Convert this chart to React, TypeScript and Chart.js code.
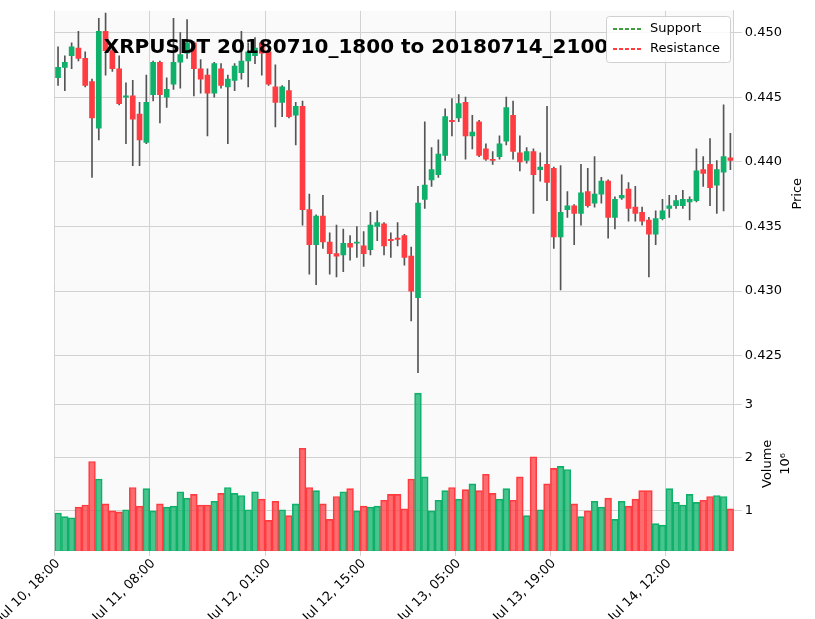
import { useEffect, useRef } from "react"
import Chart from "chart.js/auto"

const opens = [
  0.4465, 0.4473, 0.4482, 0.4488, 0.448, 0.4462, 0.4426, 0.4501, 0.4486, 0.4472,
  0.445, 0.4451, 0.4437, 0.4415, 0.4452, 0.4477, 0.445, 0.446, 0.4477, 0.4484,
  0.4492, 0.4472, 0.4467, 0.4453, 0.4472, 0.4458, 0.4463, 0.4469, 0.4478, 0.4482,
  0.4492, 0.4485, 0.4458, 0.4446, 0.4455, 0.4436, 0.4443, 0.4363, 0.4336, 0.4358,
  0.4338, 0.4329, 0.4328, 0.4337, 0.4337, 0.4335, 0.4332, 0.435, 0.4352, 0.434,
  0.4341, 0.4343, 0.4327, 0.4295, 0.4371, 0.4386, 0.439, 0.4405, 0.4432, 0.4434,
  0.4446, 0.442, 0.4431, 0.441, 0.4402, 0.4404, 0.4416, 0.4436, 0.4407, 0.4401,
  0.4408, 0.4394, 0.4398, 0.4395, 0.4342, 0.4363, 0.4366, 0.436, 0.4377, 0.4368,
  0.4375, 0.4385, 0.4357, 0.4372, 0.4379, 0.4365, 0.4361, 0.4355, 0.4344, 0.4356,
  0.4364, 0.4366, 0.4366, 0.4369, 0.437, 0.4394, 0.4398, 0.4382, 0.4392, 0.4403,
]
const closes = [
  0.4473, 0.4477, 0.4489, 0.448, 0.4459, 0.4434, 0.4501, 0.4486, 0.4472, 0.4445,
  0.4451, 0.4433, 0.4417, 0.4446, 0.4477, 0.4452, 0.4456, 0.4477, 0.4483, 0.4492,
  0.4472, 0.4464, 0.4453, 0.4476, 0.4459, 0.4464, 0.4474, 0.4478, 0.4485, 0.4488,
  0.4484, 0.446, 0.4446, 0.4458, 0.4435, 0.4443, 0.4363, 0.4336, 0.4358, 0.4338,
  0.4329, 0.4327, 0.4337, 0.4334, 0.4338, 0.4329, 0.4351, 0.4353, 0.4335, 0.4339,
  0.434, 0.4326, 0.43, 0.4368, 0.4382, 0.4394, 0.4406, 0.4435, 0.4431, 0.4445,
  0.442, 0.4423, 0.4405, 0.4402, 0.4401, 0.4414, 0.4442, 0.4408, 0.44, 0.4408,
  0.439, 0.4396, 0.4384, 0.4342, 0.4361, 0.4366, 0.436, 0.4376, 0.4366, 0.4375,
  0.4385, 0.4357, 0.4371, 0.4374, 0.4364, 0.436, 0.4354, 0.4344, 0.4356, 0.4362,
  0.4366, 0.437, 0.4371, 0.4371, 0.4393, 0.4391, 0.438, 0.4394, 0.4404, 0.4401,
]
const highs = [
  0.4489, 0.4482, 0.4492, 0.4501, 0.4485, 0.4464, 0.4511, 0.4515, 0.4487, 0.4482,
  0.4461, 0.4463, 0.4446, 0.4467, 0.4478, 0.4478, 0.4465, 0.4511, 0.45, 0.451,
  0.4493, 0.4479, 0.4472, 0.4477, 0.4476, 0.4467, 0.4476, 0.4501, 0.4492, 0.4496,
  0.4493, 0.4486, 0.4475, 0.4459, 0.4463, 0.4446, 0.4447, 0.4375, 0.4359, 0.4374,
  0.4345, 0.4351, 0.4348, 0.4343, 0.435, 0.4346, 0.4361, 0.4362, 0.4353, 0.4345,
  0.4353, 0.4344, 0.4334, 0.4381, 0.4431, 0.4411, 0.4417, 0.4441, 0.4449, 0.4452,
  0.445, 0.4436, 0.4432, 0.4414, 0.4408, 0.442, 0.445, 0.4447, 0.442, 0.4411,
  0.441, 0.4407, 0.4443, 0.4396, 0.4397, 0.4377, 0.4367, 0.4398, 0.4395, 0.4404,
  0.4388, 0.4386, 0.4373, 0.439, 0.4384, 0.4381, 0.4365, 0.4357, 0.4362, 0.4371,
  0.4374, 0.4374, 0.4378, 0.4373, 0.441, 0.4404, 0.4418, 0.4401, 0.4444, 0.4422,
]
const lows = [
  0.4459, 0.4455, 0.4472, 0.4478, 0.4458, 0.4388, 0.4417, 0.4467, 0.447, 0.4444,
  0.4414, 0.4397, 0.4397, 0.4414, 0.4447, 0.443, 0.4442, 0.4456, 0.4457, 0.448,
  0.4451, 0.4453, 0.442, 0.445, 0.4457, 0.4414, 0.4455, 0.4464, 0.4458, 0.4476,
  0.4467, 0.4459, 0.4427, 0.4435, 0.4434, 0.4413, 0.4351, 0.4313, 0.4305, 0.4333,
  0.4313, 0.4311, 0.4315, 0.4324, 0.4326, 0.4319, 0.4328, 0.4339, 0.4328, 0.4326,
  0.4335, 0.432, 0.4277, 0.4237, 0.4364, 0.4381, 0.4388, 0.4401, 0.442, 0.4431,
  0.4402, 0.441, 0.4404, 0.4401, 0.4398, 0.4402, 0.4413, 0.4402, 0.4393, 0.4399,
  0.436, 0.4385, 0.437, 0.4333, 0.4301, 0.4357, 0.4336, 0.4351, 0.4365, 0.4365,
  0.4368, 0.4341, 0.4348, 0.4371, 0.4354, 0.4354, 0.4351, 0.4311, 0.4336, 0.4355,
  0.4357, 0.4364, 0.4364, 0.4355, 0.4369, 0.4381, 0.4366, 0.436, 0.4362, 0.4394,
]
// volume in units of 10^6
const volumes = [
  0.96, 0.89, 0.87, 1.07, 1.11, 1.93, 1.6, 1.13, 1.0, 0.98,
  1.02, 1.44, 1.09, 1.42, 1.0, 1.13, 1.07, 1.09, 1.36, 1.24,
  1.31, 1.11, 1.11, 1.18, 1.33, 1.44, 1.33, 1.29, 1.02, 1.36,
  1.22, 0.82, 1.18, 1.02, 0.91, 1.13, 2.18, 1.44, 1.38, 1.13,
  0.84, 1.27, 1.36, 1.42, 1.0, 1.09, 1.07, 1.09, 1.2, 1.31,
  1.31, 1.04, 1.6, 3.22, 1.64, 1.0, 1.2, 1.38, 1.44, 1.22,
  1.4, 1.51, 1.38, 1.69, 1.33, 1.22, 1.42, 1.2, 1.64, 0.91,
  2.02, 1.02, 1.51, 1.8, 1.84, 1.78, 1.13, 0.89, 1.0, 1.18,
  1.07, 1.24, 0.84, 1.18, 1.09, 1.22, 1.38, 1.38, 0.76, 0.73,
  1.42, 1.16, 1.11, 1.31, 1.16, 1.2, 1.27, 1.29, 1.27, 1.04,
]
// shown x tick labels by candle index
const tickLabels: Record<number, string> = {
  0: "Jul 10, 18:00",
  14: "Jul 11, 08:00",
  31: "Jul 12, 01:00",
  45: "Jul 12, 15:00",
  59: "Jul 13, 05:00",
  73: "Jul 13, 19:00",
  90: "Jul 14, 12:00",
}
const title = "XRPUSDT 20180710_1800 to 20180714_2100"

const UP = "#0fb16a"
const DOWN = "#ff3c41"
const FONT = "'DejaVu Sans', sans-serif"

const CandleChart = () => {
  const chartRef = useRef<HTMLCanvasElement>(null)
  const chartInstance = useRef<Chart | null>(null)

  useEffect(() => {
    if (!chartRef.current) return
    if (chartInstance.current) chartInstance.current.destroy()

    const labels = opens.map((_, i) => String(i))
    const up = opens.map((o, i) => closes[i] >= o)
    const bodyColors = up.map((u) => (u ? UP : DOWN))
    const volFill = up.map((u) => (u ? "rgba(15,177,106,0.75)" : "rgba(255,60,65,0.75)"))

    const overlay = {
      id: "overlay",
      beforeDraw(chart: any) {
        const { ctx } = chart
        const y = chart.scales.y
        const yv = chart.scales.yv
        const x = chart.scales.x
        ctx.save()
        ctx.fillStyle = "#fafafa"
        ctx.fillRect(x.left, y.top, x.right - x.left, yv.bottom - y.top)
        ctx.restore()
      },
      afterDraw(chart: any) {
        const { ctx } = chart
        const y = chart.scales.y
        const yv = chart.scales.yv
        ctx.save()
        ctx.fillStyle = "#000"
        ctx.font = `bold 20px ${FONT}`
        ctx.textAlign = "center"
        ctx.textBaseline = "middle"
        ctx.fillText(title, 356, 48)
        // axis titles (rotated counter-clockwise like matplotlib)
        ctx.font = `13px ${FONT}`
        ctx.save()
        ctx.translate(798, (y.top + y.bottom) / 2)
        ctx.rotate(-Math.PI / 2)
        ctx.fillText("Price", 0, 0)
        ctx.restore()
        ctx.save()
        ctx.translate(782, (yv.top + yv.bottom) / 2)
        ctx.rotate(-Math.PI / 2)
        ctx.fillText("Volume", 0, -14)
        ctx.fillText("10⁶", 0, 4)
        ctx.restore()
        // legend
        ctx.fillStyle = "rgba(255,255,255,0.85)"
        ctx.strokeStyle = "#d0d0d0"
        ctx.lineWidth = 1
        ctx.beginPath()
        ctx.roundRect(606.5, 16.5, 124, 46, 3)
        ctx.fill()
        ctx.stroke()
        const items: [string, string][] = [["Support", "#008000"], ["Resistance", "#ff0000"]]
        items.forEach(([t, c], k) => {
          const yy = 29 + k * 20
          ctx.strokeStyle = c
          ctx.lineWidth = 1.5
          ctx.setLineDash([4, 2])
          ctx.beginPath()
          ctx.moveTo(613, yy)
          ctx.lineTo(641, yy)
          ctx.stroke()
          ctx.setLineDash([])
          ctx.fillStyle = "#000"
          ctx.font = `13px ${FONT}`
          ctx.textAlign = "left"
          ctx.fillText(t, 650, yy)
        })
        ctx.restore()
      },
    }

    chartInstance.current = new Chart(chartRef.current, {
      type: "bar",
      data: {
        labels,
        datasets: [
          {
            label: "wick",
            data: highs.map((h, i) => [lows[i], h]) as any,
            backgroundColor: "#555555",
            barThickness: 1,
            grouped: false,
            yAxisID: "y",
            order: 2,
          },
          {
            label: "body",
            data: opens.map((o, i) => [
              Math.min(o, closes[i]),
              Math.max(o, closes[i]) + (Math.abs(o - closes[i]) < 0.00004 ? 0.00003 : 0),
            ]) as any,
            backgroundColor: bodyColors,
            barThickness: 5,
            grouped: false,
            yAxisID: "y",
            order: 1,
          },
          {
            label: "volume",
            data: volumes,
            backgroundColor: volFill,
            borderColor: bodyColors,
            borderWidth: 1,
            categoryPercentage: 1,
            barPercentage: 1,
            grouped: false,
            yAxisID: "yv",
          },
        ],
      },
      options: {
        responsive: false,
        animation: false,
        layout: { padding: { top: 10, right: 30, left: -14, bottom: -6 } },
        plugins: { legend: { display: false }, tooltip: { enabled: false } },
        scales: {
          x: {
            offset: true,
            grid: { color: (c: any) => (tickLabels[c.index] ? "#d2d2d2" : "rgba(0,0,0,0)"), tickLength: 5 },
            border: { color: "#d2d2d2" },
            ticks: {
              autoSkip: false,
              minRotation: 45,
              maxRotation: 45,
              padding: 0,
              color: "#000",
              font: { family: FONT, size: 13 },
              callback: (_v: any, i: number) => tickLabels[i] ?? "",
            },
          },
          y: {
            position: "right",
            stack: "panels",
            stackWeight: 2.1,
            min: 0.42338,
            max: 0.45168,
            grid: { color: "#d2d2d2" },
            border: { color: "#d2d2d2" },
            ticks: {
              stepSize: 0.005,
              includeBounds: false,
              color: "#000",
              font: { family: FONT, size: 13 },
              callback: (v: any) => Number(v).toFixed(3),
            },
          },
          yv: {
            position: "right",
            stack: "panels",
            stackWeight: 1,
            min: 0.244,
            max: 3.53,
            grid: { color: "#d2d2d2" },
            border: { color: "#d2d2d2" },
            ticks: {
              stepSize: 1,
              includeBounds: false,
              color: "#000",
              font: { family: FONT, size: 13 },
              callback: (v: any) => String(Math.round(Number(v))),
            },
          },
        },
      } as any,
      plugins: [overlay],
    })

    return () => {
      if (chartInstance.current) {
        chartInstance.current.destroy()
        chartInstance.current = null
      }
    }
  }, [])

  return <canvas ref={chartRef} width={815} height={619} />
}

export default function App() {
  return (
    <div style={{ position: "absolute", left: 0, top: 0, width: 815, height: 619, background: "#fff" }}>
      <CandleChart />
    </div>
  )
}
